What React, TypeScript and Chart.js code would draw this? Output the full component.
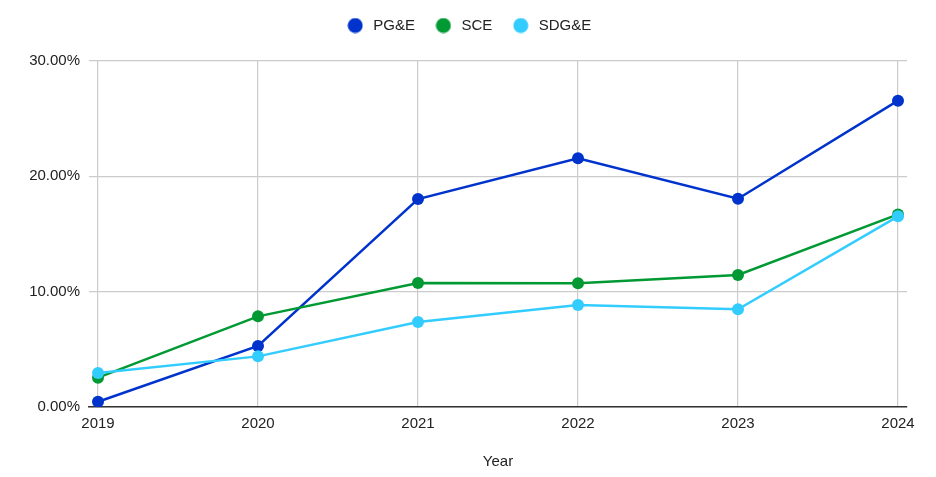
import { useEffect, useRef } from "react"
import { Chart, registerables } from "chart.js"

Chart.register(...registerables)

// dados
const years = [2019, 2020, 2021, 2022, 2023, 2024]
const pgeValues = [0.46, 5.29, 18.03, 21.56, 18.06, 26.56]
const sceValues = [2.54, 7.86, 10.75, 10.72, 11.45, 16.7]
const sdgeValues = [2.95, 4.39, 7.37, 8.84, 8.47, 16.53]
const yTicks = [0, 10, 20, 30]

const seriesNames = ["PG&E", "SCE", "SDG&E"]
const seriesColors = ["#0033cc", "#009933", "#33ccff"]

const FONT = "Arial, 'Liberation Sans', sans-serif"
const TEXT = "#222222"

// bolinha da legenda desenhada num canvas
function makeDot(color: string) {
  const c = document.createElement("canvas")
  c.width = 16
  c.height = 16
  const ctx = c.getContext("2d")
  if (ctx) {
    ctx.fillStyle = color
    ctx.beginPath()
    ctx.arc(8, 8, 7.5, 0, Math.PI * 2)
    ctx.fill()
  }
  return c
}

// espaço extra abaixo da legenda
const legendGap = {
  id: "legendGap",
  beforeInit(chart: any) {
    const origFit = chart.legend.fit
    chart.legend.fit = function fit() {
      origFit.bind(chart.legend)()
      this.height += 18
    }
  },
}

export default function App() {
  const chartRef = useRef<HTMLCanvasElement>(null)
  const chartInstance = useRef<Chart | null>(null)

  useEffect(() => {
    if (!chartRef.current) return

    if (chartInstance.current) {
      chartInstance.current.destroy()
    }

    const ctx = chartRef.current.getContext("2d")
    if (!ctx) return

    const dots = seriesColors.map((c) => makeDot(c))
    const allValues = [pgeValues, sceValues, sdgeValues]

    chartInstance.current = new Chart(ctx, {
      type: "line",
      data: {
        datasets: allValues.map((vals, i) => ({
          label: seriesNames[i],
          data: years.map((y, j) => ({ x: y, y: vals[j] })),
          borderColor: seriesColors[i],
          backgroundColor: seriesColors[i],
          pointBackgroundColor: seriesColors[i],
          pointBorderColor: seriesColors[i],
          pointBorderWidth: 0,
          pointRadius: 6,
          borderWidth: 2.5,
          tension: 0,
          order: allValues.length - 1 - i,
        })),
      },
      plugins: [legendGap],
      options: {
        animation: false,
        responsive: true,
        maintainAspectRatio: false,
        layout: {
          padding: { left: 29, right: 29, top: 0, bottom: 2 },
        },
        plugins: {
          tooltip: { enabled: false },
          legend: {
            position: "top",
            labels: {
              usePointStyle: true,
              pointStyleWidth: 21,
              boxHeight: 15,
              padding: 18,
              color: TEXT,
              font: { family: FONT, size: 15 },
              sort: (a, b) => (a.datasetIndex ?? 0) - (b.datasetIndex ?? 0),
              generateLabels: (chart) =>
                Chart.defaults.plugins.legend.labels
                  .generateLabels(chart)
                  .map((l) => ({ ...l, pointStyle: dots[l.datasetIndex ?? 0] as any })),
            },
          },
        },
        scales: {
          x: {
            type: "linear",
            min: years[0] - 9 / 160,
            max: years[years.length - 1] + 9 / 160,
            ticks: {
              stepSize: 1,
              includeBounds: false,
              padding: 8,
              color: TEXT,
              font: { family: FONT, size: 15 },
              callback: (v) => String(v),
            },
            grid: { color: "#cccccc", lineWidth: 1.2, drawTicks: false },
            border: { color: "#333333", width: 1.5 },
            title: {
              display: true,
              text: "Year",
              color: TEXT,
              font: { family: FONT, size: 15 },
              padding: { top: 12, bottom: 4 },
            },
          },
          y: {
            min: yTicks[0],
            max: yTicks[yTicks.length - 1],
            afterBuildTicks: (scale) => {
              scale.ticks = yTicks.map((v) => ({ value: v }))
            },
            afterFit: (scale) => {
              scale.width = 60
            },
            ticks: {
              padding: 9,
              color: TEXT,
              font: { family: FONT, size: 15 },
              callback: (v) => Number(v).toFixed(2) + "%",
            },
            grid: { color: "#cccccc", lineWidth: 1.2, drawTicks: false },
            border: { display: false },
          },
        },
      },
    })

    return () => {
      if (chartInstance.current) {
        chartInstance.current.destroy()
      }
    }
  }, [])

  return (
    <div style={{ position: "absolute", left: 0, top: 0, width: 936, height: 477, background: "#fff" }}>
      <canvas ref={chartRef} />
    </div>
  )
}
